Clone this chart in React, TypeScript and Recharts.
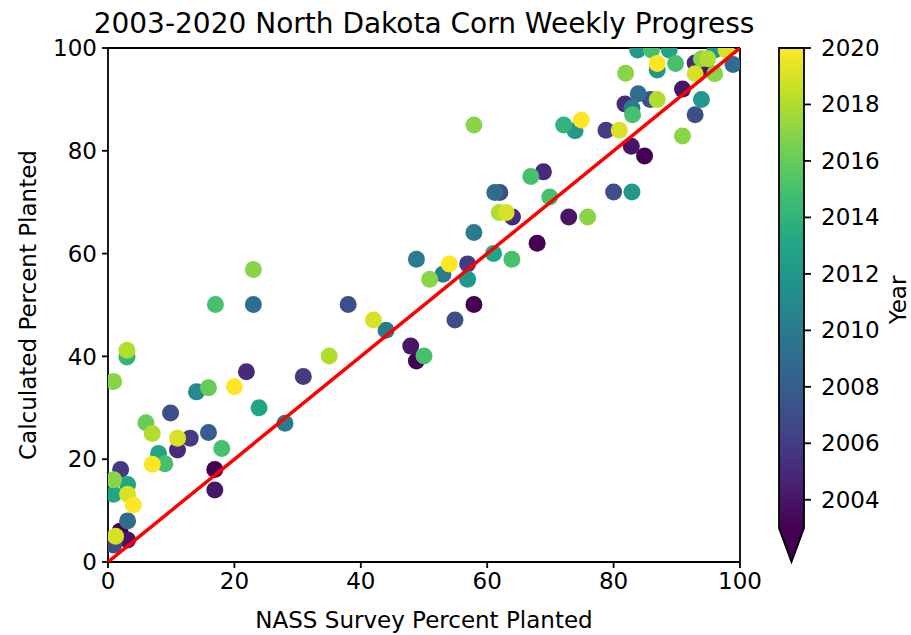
import React from "react";
import { ScatterChart, Scatter, XAxis, YAxis, ReferenceLine } from "recharts";

// one entry per survey week, grouped by year
const nassPct = [
  16.9, 1.9, 48.8, 57.9, 67.9, 84.9, // 2003
  16.9, 47.9, 72.9, 82.8, 90.9, 94.5, 3.1, // 2004
  11.0, 21.9, 64.0, 68.9, 81.8, 92.9, // 2005
  2.0, 13.0, 30.9, 56.9, 78.8, // 2006
  0.9, 9.9, 38.0, 54.9, 62.0, 80.0, 85.8, 92.9, // 2007
  15.9, // 2008
  3.1, 23.0, 61.2, 83.9, 98.9, // 2009
  28.0, 44.0, 48.8, 53.0, 57.9, 82.9, // 2010
  14.0, // 2011
  56.9, 73.9, 82.9, 83.8, 86.9, 93.9, 96.0, // 2012
  0.9, 3.1, 8.0, 23.9, 61.0, 88.8, // 2013
  3.0, 72.1, // 2014
  9.0, 17.0, 18.0, 50.0, 63.9, 66.9, 69.9, 83.0, 86.0, 89.8, // 2015
  6.0, 15.9, // 2016
  0.9, 0.9, 23.0, 50.9, 57.9, 75.9, 81.9, 90.9, 93.9, 96.0, // 2017
  3.0, 7.0, 35.0, 61.9, 86.9, 94.9, // 2018
  1.2, 3.1, 11.0, 42.0, 63.0, 80.9, 92.9, 97.8, // 2019
  4.0, 7.0, 20.0, 54.0, 74.9, 86.9, // 2020
];

const calcPct = [
  18.0, 6.0, 39.1, 50.1, 62.0, 79.0,
  14.0, 42.0, 67.1, 80.9, 92.0, 96.0, 4.3,
  21.8, 37.0, 67.1, 75.9, 89.1, 97.1,
  18.0, 24.1, 36.1, 58.0, 84.0,
  3.3, 29.0, 50.1, 47.1, 71.9, 72.0, 90.0, 87.0,
  25.2,
  8.0, 50.1, 71.9, 91.1, 96.8,
  27.0, 45.1, 58.9, 56.0, 64.1, 88.3,
  33.1,
  55.0, 83.9, 72.0, 99.6, 95.7, 90.0, 99.6,
  13.2, 15.1, 21.1, 30.0, 60.0, 99.6,
  39.9, 85.0,
  19.1, 50.1, 22.1, 40.1, 58.9, 75.0, 71.0, 87.0, 99.6, 97.0,
  27.1, 33.9,
  16.0, 35.1, 56.9, 55.0, 85.0, 67.1, 95.1, 82.9, 97.9, 95.0,
  41.2, 25.0, 40.1, 68.0, 90.0, 97.9,
  5.0, 13.2, 24.1, 47.1, 68.0, 84.0, 95.0, 99.6,
  11.1, 19.0, 34.1, 58.0, 86.0, 97.0,
];

const pointYear = [
  2003, 2003, 2003, 2003, 2003, 2003,
  2004, 2004, 2004, 2004, 2004, 2004, 2004,
  2005, 2005, 2005, 2005, 2005, 2005,
  2006, 2006, 2006, 2006, 2006,
  2007, 2007, 2007, 2007, 2007, 2007, 2007, 2007,
  2008,
  2009, 2009, 2009, 2009, 2009,
  2010, 2010, 2010, 2010, 2010, 2010,
  2011,
  2012, 2012, 2012, 2012, 2012, 2012, 2012,
  2013, 2013, 2013, 2013, 2013, 2013,
  2014, 2014,
  2015, 2015, 2015, 2015, 2015, 2015, 2015, 2015, 2015, 2015,
  2016, 2016,
  2017, 2017, 2017, 2017, 2017, 2017, 2017, 2017, 2017, 2017,
  2018, 2018, 2018, 2018, 2018, 2018,
  2019, 2019, 2019, 2019, 2019, 2019, 2019, 2019,
  2020, 2020, 2020, 2020, 2020, 2020,
];

// 1:1 reference line
const oneToOneX = [0, 100];
const oneToOneY = [0, 100];

const axisTicks = [0, 20, 40, 60, 80, 100];
const yearTicks = [2004, 2006, 2008, 2010, 2012, 2014, 2016, 2018, 2020];
const yearMin = 2003;
const yearMax = 2020;

const VIRIDIS = [
  "#440154", "#482475", "#414487", "#355f8d", "#2a788e", "#21918c",
  "#22a884", "#44bf70", "#7ad151", "#bddf26", "#fde725",
];

function hexToRgb(h: string) {
  return [1, 3, 5].map((i) => parseInt(h.slice(i, i + 2), 16));
}

function viridis(t: number) {
  const c = Math.max(0, Math.min(1, t)) * (VIRIDIS.length - 1);
  const i = Math.min(Math.floor(c), VIRIDIS.length - 2);
  const f = c - i;
  const a = hexToRgb(VIRIDIS[i]);
  const b = hexToRgb(VIRIDIS[i + 1]);
  const m = a.map((v, k) => Math.round(v + (b[k] - v) * f));
  return `rgb(${m[0]},${m[1]},${m[2]})`;
}

const points = nassPct.map((x, i) => ({ x, y: calcPct[i], year: pointYear[i] }));
const lineData = oneToOneX.map((x, i) => ({ x, y: oneToOneY[i] }));

const FONT = "DejaVu Sans";
const tickStyle = { fill: "#000", fontSize: 23, fontFamily: FONT };

const YearDot = (props: any) => {
  const { cx, cy, payload } = props;
  if (cx == null || cy == null) return null;
  const t = (payload.year - yearMin) / (yearMax - yearMin);
  return <circle cx={cx} cy={cy} r={8.5} fill={viridis(t)} />;
};

// colorbar geometry
const CB = { left: 779, right: 804, top: 48, bottom: 528, tip: 562 };
const yearToY = (yr: number) =>
  CB.top + ((yearMax - yr) / (yearMax - yearMin)) * (CB.bottom - CB.top);

const App: React.FC = () => {
  return (
    <div style={{ position: "absolute", left: 0, top: 0, width: 911, height: 635, background: "#fff" }}>
      <ScatterChart
        width={911}
        height={635}
        margin={{ top: 48, right: 171, bottom: 0, left: 0 }}
      >
        <XAxis
          type="number"
          dataKey="x"
          domain={[0, 100]}
          ticks={axisTicks}
          interval={0}
          allowDataOverflow
          height={73}
          tick={tickStyle}
          tickSize={6}
          tickMargin={5}
          axisLine={{ stroke: "#000", strokeWidth: 1.8 }}
          tickLine={{ stroke: "#000", strokeWidth: 1.8 }}
          label={{
            value: "NASS Survey Percent Planted",
            position: "insideBottom",
            offset: 7,
            style: { fill: "#000", fontSize: 23, fontFamily: FONT },
          }}
        />
        <YAxis
          type="number"
          dataKey="y"
          domain={[0, 100]}
          ticks={axisTicks}
          interval={0}
          allowDataOverflow
          width={108}
          tick={tickStyle}
          tickSize={6}
          tickMargin={5}
          axisLine={{ stroke: "#000", strokeWidth: 1.8 }}
          tickLine={{ stroke: "#000", strokeWidth: 1.8 }}
          label={{
            value: "Calculated Percent Planted",
            angle: -90,
            position: "insideLeft",
            offset: 28,
            style: { fill: "#000", fontSize: 23, fontFamily: FONT, textAnchor: "middle" },
          }}
        />
        <Scatter data={points} shape={YearDot} isAnimationActive={false} />
        <Scatter
          data={lineData}
          line={{ stroke: "#ff0000", strokeWidth: 3.5 }}
          lineType="joint"
          shape={() => <g />}
          isAnimationActive={false}
        />
        <ReferenceLine y={100} stroke="#000" strokeWidth={1.8} />
        <ReferenceLine x={100} stroke="#000" strokeWidth={1.8} />
      </ScatterChart>

      <svg
        width={911}
        height={635}
        style={{ position: "absolute", left: 0, top: 0, pointerEvents: "none" }}
        fontFamily={FONT}
      >
        <text x={424} y={33} textAnchor="middle" fontSize={28} fill="#000">
          2003-2020 North Dakota Corn Weekly Progress
        </text>

        {/* Colorbar */}
        <defs>
          <linearGradient id="viridisBar" x1="0" y1="1" x2="0" y2="0">
            {VIRIDIS.map((c, i) => (
              <stop key={i} offset={i / (VIRIDIS.length - 1)} stopColor={c} />
            ))}
          </linearGradient>
        </defs>
        <rect
          x={CB.left}
          y={CB.top}
          width={CB.right - CB.left}
          height={CB.bottom - CB.top}
          fill="url(#viridisBar)"
        />
        <polygon
          points={`${CB.left},${CB.bottom} ${CB.right},${CB.bottom} ${(CB.left + CB.right) / 2},${CB.tip}`}
          fill={viridis(0)}
        />
        <path
          d={`M${CB.left},${CB.top} L${CB.right},${CB.top} L${CB.right},${CB.bottom} L${(CB.left + CB.right) / 2},${CB.tip} L${CB.left},${CB.bottom} Z`}
          fill="none"
          stroke="#000"
          strokeWidth={1.8}
        />
        {yearTicks.map((yr) => (
          <g key={yr}>
            <line x1={CB.right} x2={CB.right + 7} y1={yearToY(yr)} y2={yearToY(yr)} stroke="#000" strokeWidth={1.8} />
            <text x={CB.right + 17} y={yearToY(yr)} dominantBaseline="central" fontSize={23} fill="#000">
              {yr}
            </text>
          </g>
        ))}
        <text
          x={898}
          y={300}
          transform="rotate(-90 898 300)"
          textAnchor="middle"
          dominantBaseline="central"
          fontSize={23}
          fill="#000"
        >
          Year
        </text>
      </svg>
    </div>
  );
};

export default App;
